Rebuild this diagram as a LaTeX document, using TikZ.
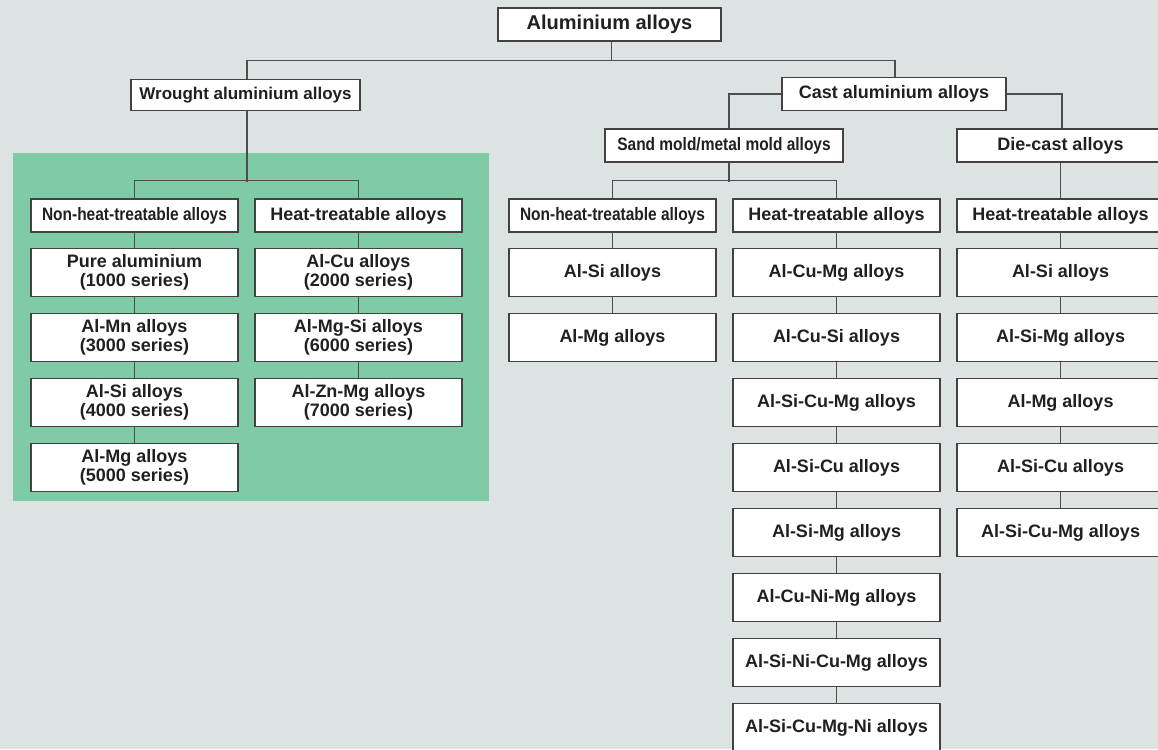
\documentclass[tikz,border=0pt]{standalone}
\usepackage{fontspec}
\setmainfont{Liberation Sans}
\newfontfamily\narrowfont[FakeStretch=0.86]{Liberation Sans}
\usetikzlibrary{positioning}
\definecolor{bgcol}{HTML}{DDE3E3}
\definecolor{wroughtgreen}{HTML}{7FCBA5}
\definecolor{inkcol}{HTML}{231F20}
\definecolor{linecol}{HTML}{4D4D4D}

\begin{document}
\begin{tikzpicture}[x=1pt,y=-1pt,
  box/.style={draw=inkcol!85, line width=1.1pt, fill=white, text=inkcol, align=center,
    inner sep=0pt, minimum width=207pt, font=\bfseries\fontsize{18}{19.5}\selectfont},
  headbox/.style={box, minimum height=33pt},
  itembox/.style={box, minimum height=48pt},
  narrowbox/.style={headbox, font=\narrowfont\bfseries\fontsize{18}{19.5}\selectfont},
  link/.style={draw=linecol, line width=1.4pt}]

  \useasboundingbox (0,0) rectangle (1158,749);
  \fill [bgcol] (0,0) rectangle (1158,749);
  % wrought alloys area
  \fill [wroughtgreen] (13,153) rectangle (489,501);

  \node [box, minimum width=223pt, minimum height=33pt, font=\bfseries\fontsize{20}{22}\selectfont] (alloys) at (609.5,24.5) {Aluminium alloys};
  \node [box, minimum width=229pt, minimum height=31pt, font=\bfseries\fontsize{17}{19}\selectfont] (wrought) at (245.5,95) {Wrought aluminium alloys};
  \node [box, minimum width=224pt, minimum height=33pt] (cast) at (894,94) {Cast aluminium alloys};
  \node [narrowbox, minimum width=238pt] (sand) at (724,145.5) {Sand mold/metal mold alloys};
  \node [headbox] (die) at (1060.5,145.5) {Die-cast alloys};

  % wrought
  \node [narrowbox] (wn) at (134.5,215.5) {Non-heat-treatable alloys};
  \node [headbox] (wh) at (358.5,215.5) {Heat-treatable alloys};
  \node [itembox] (w1) at (134.5,272.5) {Pure aluminium\\(1000 series)};
  \node [itembox] (w3) at (134.5,337.5) {Al-Mn alloys\\(3000 series)};
  \node [itembox] (w4) at (134.5,402.5) {Al-Si alloys\\(4000 series)};
  \node [itembox] (w5) at (134.5,467.5) {Al-Mg alloys\\(5000 series)};
  \node [itembox] (w2) at (358.5,272.5) {Al-Cu alloys\\(2000 series)};
  \node [itembox] (w6) at (358.5,337.5) {Al-Mg-Si alloys\\(6000 series)};
  \node [itembox] (w7) at (358.5,402.5) {Al-Zn-Mg alloys\\(7000 series)};

  % sand mold / metal mold
  \node [narrowbox] (cn) at (612.5,215.5) {Non-heat-treatable alloys};
  \node [headbox] (ch) at (836.5,215.5) {Heat-treatable alloys};
  \node [itembox] (cn1) at (612.5,272.5) {Al-Si alloys};
  \node [itembox] (cn2) at (612.5,337.5) {Al-Mg alloys};
  \node [itembox] (ch1) at (836.5,272.5) {Al-Cu-Mg alloys};
  \node [itembox] (ch2) at (836.5,337.5) {Al-Cu-Si alloys};
  \node [itembox] (ch3) at (836.5,402.5) {Al-Si-Cu-Mg alloys};
  \node [itembox] (ch4) at (836.5,467.5) {Al-Si-Cu alloys};
  \node [itembox] (ch5) at (836.5,532.5) {Al-Si-Mg alloys};
  \node [itembox] (ch6) at (836.5,597.5) {Al-Cu-Ni-Mg alloys};
  \node [itembox] (ch7) at (836.5,662.5) {Al-Si-Ni-Cu-Mg alloys};
  \node [itembox] (ch8) at (836.5,727.5) {Al-Si-Cu-Mg-Ni alloys};

  % die-cast
  \node [headbox] (dh) at (1060.5,215.5) {Heat-treatable alloys};
  \node [itembox] (dh1) at (1060.5,272.5) {Al-Si alloys};
  \node [itembox] (dh2) at (1060.5,337.5) {Al-Si-Mg alloys};
  \node [itembox] (dh3) at (1060.5,402.5) {Al-Mg alloys};
  \node [itembox] (dh4) at (1060.5,467.5) {Al-Si-Cu alloys};
  \node [itembox] (dh5) at (1060.5,532.5) {Al-Si-Cu-Mg alloys};

  \draw [link] ([xshift=2pt]alloys.south) -- ++(0,19) -| ([xshift=1.5pt]wrought.north);
  \draw [link] ([xshift=2pt]alloys.south) -- ++(0,19) -| ([xshift=1pt]cast.north);
  \draw [link] (cast.west) -| ([xshift=5pt]sand.north);
  \draw [link] (cast.east) -| ([xshift=1.5pt]die.north);

  \draw [link] ([xshift=1.5pt]wrought.south) -- ++(0,70.5);
  \draw [link] (wn.north) -- ++(0,-18) -| (wh.north);
  \draw [link] ([xshift=5pt]sand.south) -- ++(0,19);
  \draw [link] (cn.north) -- ++(0,-18) -| (ch.north);
  \draw [link] (die) -- (dh);

  \foreach \a/\b in {wn/w1,w1/w3,w3/w4,w4/w5,wh/w2,w2/w6,w6/w7,cn/cn1,cn1/cn2,
      ch/ch1,ch1/ch2,ch2/ch3,ch3/ch4,ch4/ch5,ch5/ch6,ch6/ch7,ch7/ch8,
      dh/dh1,dh1/dh2,dh2/dh3,dh3/dh4,dh4/dh5}
    \draw [link] (\a) -- (\b);
\end{tikzpicture}
\end{document}
